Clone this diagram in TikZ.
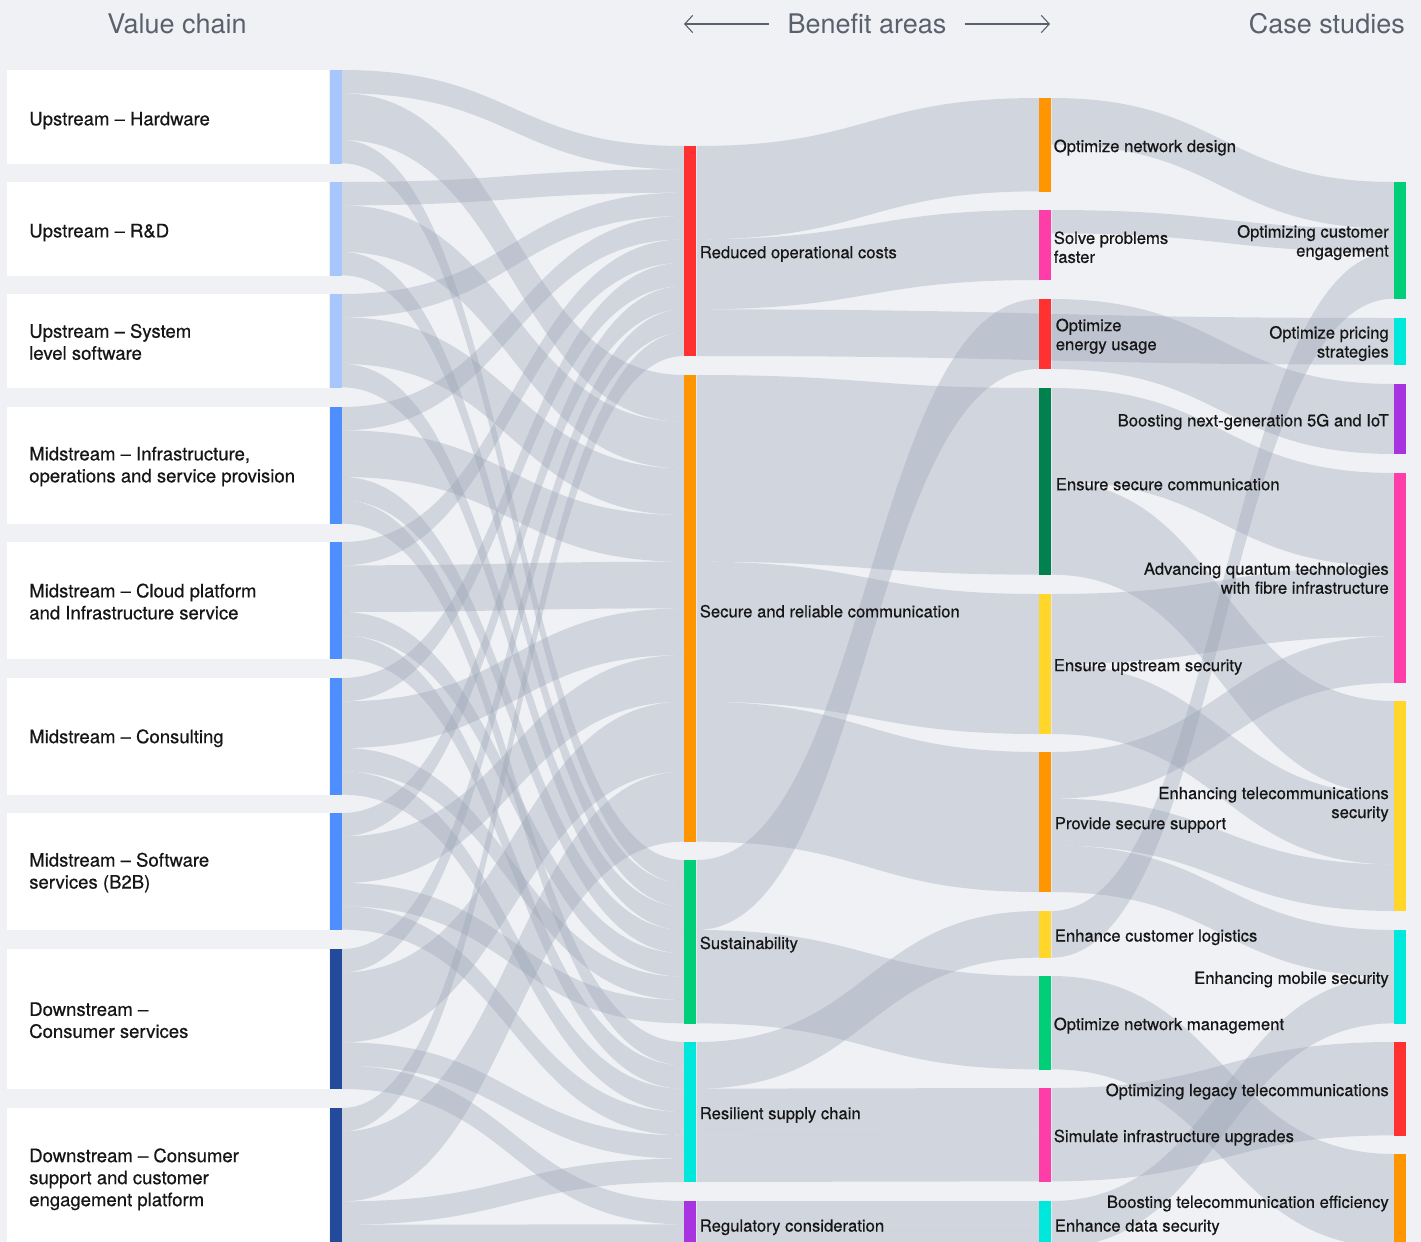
\documentclass[tikz,border=0pt]{standalone}
\usepackage{fontspec}
\setmainfont{TeX Gyre Heros}
\newfontfamily\labelfont{TeX Gyre Heros}[FakeBold=0.5, Ligatures=TeX]
\usetikzlibrary{positioning, arrows.meta, calc}

\definecolor{canvas}{HTML}{EFF1F5}
\definecolor{headgrey}{HTML}{5A606C}
\definecolor{inkblack}{HTML}{161616}
\definecolor{flowgrey}{HTML}{96A1B2}
\definecolor{upblue}{HTML}{A6C6FD}
\definecolor{midblue}{HTML}{4F8EFF}
\definecolor{downblue}{HTML}{244A9B}
\definecolor{barred}{HTML}{FF3131}
\definecolor{barorange}{HTML}{FF9500}
\definecolor{bargreen}{HTML}{00CE79}
\definecolor{bardkgreen}{HTML}{00814E}
\definecolor{barcyan}{HTML}{00E7DC}
\definecolor{barpurple}{HTML}{A734E0}
\definecolor{barpink}{HTML}{FF3DA8}
\definecolor{baryellow}{HTML}{FFD629}

\pgfdeclarelayer{flows}
\pgfsetlayers{flows,main}

\tikzset{
  sankey/.style={
	x=0.75pt, y=-0.75pt, % one unit is one pixel of the layout, y goes down
	font=\labelfont\fontsize{12.5}{14.25}\selectfont,
	text=inkblack,
  },
  stagebar/.style={rectangle, inner sep=0pt, minimum width=9pt, anchor=north west, minimum height=#1*17.5pt}, % one case = 17.5pt
  valuebox/.style={rectangle, fill=white, inner sep=0pt, minimum width=241.5pt, anchor=north west, minimum height=#1*17.5pt},
  valuelabel/.style={anchor=west, inner sep=0pt, align=left, yshift=-0.75pt, font=\labelfont\fontsize{13.9}{16.5}\selectfont},
  flow/.style={fill=flowgrey, fill opacity=0.33}, % grey bands, darker where they cross
  benlabel/.style={anchor=west, inner sep=0pt, align=left, yshift=-1.5pt},
  caselabel/.style={anchor=east, inner sep=0pt, align=right, yshift=-1.5pt},
  oneline/.style={yshift=-0.5pt}, % single lines sit a little lower
  leftone/.style={yshift=-2pt},
  heading/.style={inner sep=0pt, text=headgrey, font=\fontsize{20.25}{24}\selectfont},
  hdarrow/.style={draw=headgrey, line width=0.8pt, -{Straight Barb[length=6pt,width=13pt]}},
}

% band from #1 to #2 with #3 cases, stacked at both ends
\newcommand{\flowband}[3]{%
  \pgfmathsetmacro{\fbsrc}{\csname so@#1\endcsname}%
  \pgfmathsetmacro{\fbdst}{\csname ti@#2\endcsname}%
  \pgfmathsetmacro{\fbh}{#3*17.5}%
  \fill[flow] let \p1=([yshift=-\fbsrc*1pt]#1.north east),
                  \p2=([yshift=-\fbdst*1pt]#2.north west),
                  \p3=($(\p1)!0.5!(\p2)$) in
    (\p1) .. controls (\x3,\y1) and (\x3,\y2) .. (\p2)
    -- (\x2,{\y2-\fbh*1pt}) .. controls (\x3,{\y2-\fbh*1pt}) and (\x3,{\y1-\fbh*1pt}) .. (\x1,{\y1-\fbh*1pt}) -- cycle;
  \pgfmathsetmacro{\fbtmp}{\fbsrc+\fbh}\expandafter\xdef\csname so@#1\endcsname{\fbtmp}%
  \pgfmathsetmacro{\fbtmp}{\fbdst+\fbh}\expandafter\xdef\csname ti@#2\endcsname{\fbtmp}%
}

\begin{document}
\begin{tikzpicture}[sankey]
\useasboundingbox (0,0) rectangle (1421,1242);

\foreach \nd in {hw,rd,sls,inf,cld,cns,sws,dcs,dsp,cost,comm,sust,supply,regul,netdes,solve,energy,seccom,upsec,support,logist,netman,simup,datasec,custeng,pricing,fiveg,quantum,telsec,mobsec,legacy,effic}{%
  \expandafter\xdef\csname so@\nd\endcsname{0}%
  \expandafter\xdef\csname ti@\nd\endcsname{0}}

% headings
\node[heading] (hdvalue) at (177,24) {Value chain};
\node[heading, inner xsep=14pt] (hdbenefit) at (867,24) {Benefit areas};
\node[heading, anchor=east] (hdcase) at (1405,24) {Case studies};
\coordinate (benleft) at (684,24);
\coordinate (benright) at (1050,24);
\draw[hdarrow] (hdbenefit.west) -- (benleft);
\draw[hdarrow] (hdbenefit.east) -- (benright);

% value chain
\node[valuebox=4] (hwbox) at (7,70) {};
\node[stagebar=4, fill=upblue] (hw) at (hwbox.north east) {};
\node[valuebox=4] (rdbox) at (7,182) {};
\node[stagebar=4, fill=upblue] (rd) at (rdbox.north east) {};
\node[valuebox=4] (slsbox) at (7,294) {};
\node[stagebar=4, fill=upblue] (sls) at (slsbox.north east) {};
\node[valuebox=5] (infbox) at (7,407) {};
\node[stagebar=5, fill=midblue] (inf) at (infbox.north east) {};
\node[valuebox=5] (cldbox) at (7,542) {};
\node[stagebar=5, fill=midblue] (cld) at (cldbox.north east) {};
\node[valuebox=5] (cnsbox) at (7,678) {};
\node[stagebar=5, fill=midblue] (cns) at (cnsbox.north east) {};
\node[valuebox=5] (swsbox) at (7,813) {};
\node[stagebar=5, fill=midblue] (sws) at (swsbox.north east) {};
\node[valuebox=6] (dcsbox) at (7,949) {};
\node[stagebar=6, fill=downblue] (dcs) at (dcsbox.north east) {};
\node[valuebox=6] (dspbox) at (7,1108) {};
\node[stagebar=6, fill=downblue] (dsp) at (dspbox.north east) {};
\node[valuelabel, leftone] (hwlbl) at ([xshift=16.5pt]hwbox.west) {Upstream -- Hardware};
\node[valuelabel, leftone] (rdlbl) at ([xshift=16.5pt]rdbox.west) {Upstream -- R\&D};
\node[valuelabel] (slslbl) at ([xshift=16.5pt]slsbox.west) {Upstream -- System\\level software};
\node[valuelabel] (inflbl) at ([xshift=16.5pt]infbox.west) {Midstream -- Infrastructure,\\operations and service provision};
\node[valuelabel] (cldlbl) at ([xshift=16.5pt]cldbox.west) {Midstream -- Cloud platform\\and Infrastructure service};
\node[valuelabel, oneline] (cnslbl) at ([xshift=16.5pt]cnsbox.west) {Midstream -- Consulting};
\node[valuelabel] (swslbl) at ([xshift=16.5pt]swsbox.west) {Midstream -- Software\\services (B2B)};
\node[valuelabel] (dcslbl) at ([xshift=16.5pt]dcsbox.west) {Downstream --\\Consumer services};
\node[valuelabel] (dsplbl) at ([xshift=16.5pt]dspbox.west) {Downstream -- Consumer\\support and customer\\engagement platform};

% benefit areas
\node[stagebar=9, fill=barred] (cost) at (684,146) {};
\node[stagebar=20, fill=barorange] (comm) at (684,375) {};
\node[stagebar=7, fill=bargreen] (sust) at (684,860) {};
\node[stagebar=6, fill=barcyan] (supply) at (684,1042) {};
\node[stagebar=2, fill=barpurple] (regul) at (684,1201) {};
\node[benlabel, oneline] (costlbl) at ([xshift=2.25pt]cost.east) {Reduced operational costs};
\node[benlabel, oneline] (commlbl) at ([xshift=2.25pt]comm.east) {Secure and reliable communication};
\node[benlabel, oneline] (sustlbl) at ([xshift=2.25pt]sust.east) {Sustainability};
\node[benlabel, oneline] (supplylbl) at ([xshift=2.25pt]supply.east) {Resilient supply chain};
\node[benlabel, oneline] (regullbl) at ([xshift=2.25pt]regul.east) {Regulatory consideration};

\node[stagebar=4, fill=barorange] (netdes) at (1039,98) {};
\node[stagebar=3, fill=barpink] (solve) at (1039,210) {};
\node[stagebar=3, fill=barred] (energy) at (1039,299) {};
\node[stagebar=8, fill=bardkgreen] (seccom) at (1039,388) {};
\node[stagebar=6, fill=baryellow] (upsec) at (1039,594) {};
\node[stagebar=6, fill=barorange] (support) at (1039,752) {};
\node[stagebar=2, fill=baryellow] (logist) at (1039,911) {};
\node[stagebar=4, fill=bargreen] (netman) at (1039,976) {};
\node[stagebar=4, fill=barpink] (simup) at (1039,1088) {};
\node[stagebar=2, fill=barcyan] (datasec) at (1039,1201) {};
\node[benlabel, oneline] (netdeslbl) at ([xshift=1.5pt]netdes.east) {Optimize network design};
\node[benlabel] (solvelbl) at ([xshift=1.5pt]solve.east) {Solve problems\\faster};
\node[benlabel] (energylbl) at ([xshift=3pt]energy.east) {Optimize\\energy usage};
\node[benlabel, oneline] (seccomlbl) at ([xshift=3pt]seccom.east) {Ensure secure communication};
\node[benlabel, oneline] (upseclbl) at ([xshift=1.5pt]upsec.east) {Ensure upstream security};
\node[benlabel, oneline] (supportlbl) at ([xshift=2.25pt]support.east) {Provide secure support};
\node[benlabel, oneline] (logistlbl) at ([xshift=2.25pt]logist.east) {Enhance customer logistics};
\node[benlabel, oneline] (netmanlbl) at ([xshift=1.5pt]netman.east) {Optimize network management};
\node[benlabel, oneline] (simuplbl) at ([xshift=1.5pt]simup.east) {Simulate infrastructure upgrades};
\node[benlabel, oneline] (dataseclbl) at ([xshift=2.25pt]datasec.east) {Enhance data security};

% case studies
\node[stagebar=5, fill=bargreen] (custeng) at (1394,182) {};
\node[stagebar=2, fill=barcyan] (pricing) at (1394,318) {};
\node[stagebar=3, fill=barpurple] (fiveg) at (1394,384) {};
\node[stagebar=9, fill=barpink] (quantum) at (1394,473) {};
\node[stagebar=9, fill=baryellow] (telsec) at (1394,701) {};
\node[stagebar=4, fill=barcyan] (mobsec) at (1394,930) {};
\node[stagebar=4, fill=barred] (legacy) at (1394,1042) {};
\node[stagebar=4, fill=barorange] (effic) at (1394,1154) {};
\node[caselabel] (custenglbl) at ([xshift=-3.75pt]custeng.west) {Optimizing customer\\engagement};
\node[caselabel] (pricinglbl) at ([xshift=-3.75pt]pricing.west) {Optimize pricing\\strategies};
\node[caselabel, oneline] (fiveglbl) at ([xshift=-3.75pt]fiveg.west) {Boosting next-generation 5G and IoT};
\node[caselabel] (quantumlbl) at ([xshift=-3.75pt,yshift=1.5pt]quantum.west) {Advancing quantum technologies\\with fibre infrastructure};
\node[caselabel] (telseclbl) at ([xshift=-3.75pt,yshift=3pt]telsec.west) {Enhancing telecommunications\\security};
\node[caselabel, oneline] (mobseclbl) at ([xshift=-3.75pt]mobsec.west) {Enhancing mobile security};
\node[caselabel, oneline] (legacylbl) at ([xshift=-3.75pt]legacy.west) {Optimizing legacy telecommunications};
\node[caselabel, oneline] (efficlbl) at ([xshift=-3.75pt]effic.west) {Boosting telecommunication efficiency};

\begin{pgfonlayer}{flows}
\fill[canvas] (0,0) rectangle (1421,1242);
% value chain -> benefit areas
\flowband{hw}{cost}{1} \flowband{hw}{comm}{2} \flowband{hw}{sust}{1}
\flowband{rd}{cost}{1} \flowband{rd}{comm}{2} \flowband{rd}{sust}{1}
\flowband{sls}{cost}{1} \flowband{sls}{comm}{2} \flowband{sls}{sust}{1}
\flowband{inf}{cost}{1} \flowband{inf}{comm}{2} \flowband{inf}{sust}{1} \flowband{inf}{supply}{1}
\flowband{cld}{cost}{1} \flowband{cld}{comm}{2} \flowband{cld}{sust}{1} \flowband{cld}{supply}{1}
\flowband{cns}{cost}{1} \flowband{cns}{comm}{2} \flowband{cns}{sust}{1} \flowband{cns}{supply}{1}
\flowband{sws}{cost}{1} \flowband{sws}{comm}{2} \flowband{sws}{sust}{1} \flowband{sws}{supply}{1}
\flowband{dcs}{cost}{1} \flowband{dcs}{comm}{3} \flowband{dcs}{supply}{1} \flowband{dcs}{regul}{1}
\flowband{dsp}{cost}{1} \flowband{dsp}{comm}{3} \flowband{dsp}{supply}{1} \flowband{dsp}{regul}{1}
% benefit areas -> benefits
\flowband{cost}{netdes}{4} \flowband{cost}{solve}{3} \flowband{cost}{pricing}{2}
\flowband{comm}{seccom}{8} \flowband{comm}{upsec}{6} \flowband{comm}{support}{6}
\flowband{sust}{energy}{3} \flowband{sust}{netman}{4}
\flowband{supply}{logist}{2} \flowband{supply}{simup}{2} \flowband{supply}{simup}{1} \flowband{supply}{simup}{1}
\flowband{regul}{datasec}{1} \flowband{regul}{datasec}{1}
% benefits -> case studies
\flowband{netdes}{custeng}{2}
\flowband{solve}{custeng}{1}
\flowband{energy}{fiveg}{3}
\flowband{seccom}{quantum}{4} \flowband{seccom}{telsec}{4}
\flowband{upsec}{quantum}{3} \flowband{upsec}{telsec}{3}
\flowband{support}{quantum}{2} \flowband{support}{telsec}{2} \flowband{support}{mobsec}{2}
\flowband{logist}{custeng}{2}
\flowband{netman}{effic}{4}
\flowband{simup}{legacy}{4}
\flowband{datasec}{mobsec}{2}
\end{pgfonlayer}
\end{tikzpicture}
\end{document}
